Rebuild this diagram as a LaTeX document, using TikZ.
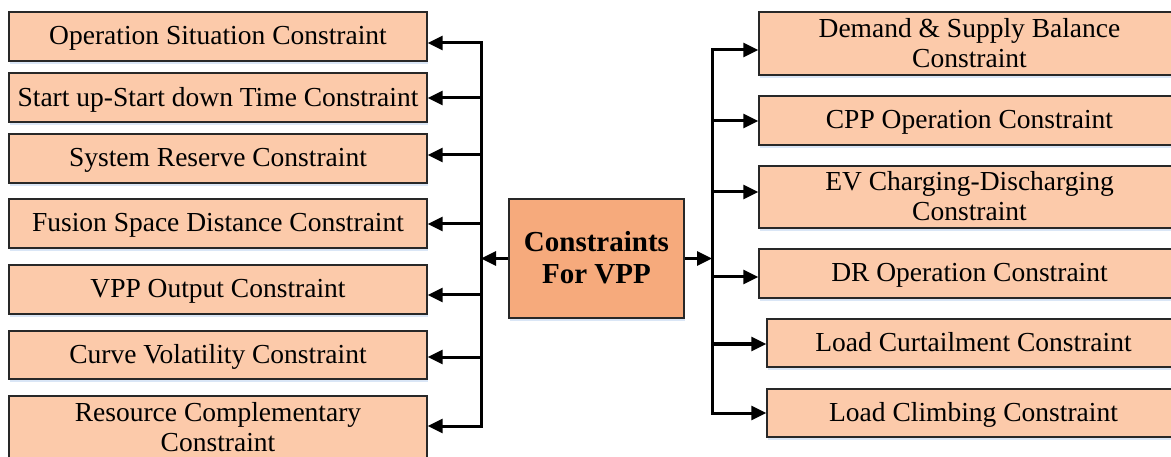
\documentclass[tikz,border=0pt]{standalone}
\usepackage{fontspec}
\setmainfont{Liberation Serif}
\usetikzlibrary{arrows.meta,shadows}

\definecolor{boxfill}{RGB}{252,202,170}
\definecolor{hubfill}{RGB}{246,170,124}
\definecolor{edgecol}{RGB}{40,40,40}
\definecolor{shadecol}{RGB}{218,230,246}

\begin{document}
\begin{tikzpicture}[x=1pt,y=-1pt,
  item/.style={draw=edgecol, line width=1.4pt, fill=boxfill, inner sep=0pt,
    align=center, font=\fontsize{27.5}{30}\selectfont, text depth=2pt,
    drop shadow={shadow xshift=1pt, shadow yshift=-3pt, fill=shadecol, opacity=1}},
  hub/.style={item, fill=hubfill, font=\fontsize{29}{32}\selectfont\bfseries},
  trunk/.style={line width=3pt, line cap=rect},
  arr/.style={line width=3pt, -{Triangle[length=15pt,width=14pt]}}]

\clip (0,0) rectangle (1171,457);
\fill[white] (0,0) rectangle (1171,457);

% central node
\node[hub, minimum width=175pt, minimum height=119pt] (C) at (596.5,258.5)
  {Constraints\\For VPP};

% left column
\node[item, minimum width=418pt, minimum height=49pt] (L1) at (218,36.5) {Operation Situation Constraint};
\node[item, minimum width=418pt, minimum height=49pt] (L2) at (218,97.5) {Start up-Start down Time Constraint};
\node[item, minimum width=418pt, minimum height=49pt] (L3) at (218,158.5) {System Reserve Constraint};
\node[item, minimum width=418pt, minimum height=49pt] (L4) at (218,223.5) {Fusion Space Distance Constraint};
\node[item, minimum width=418pt, minimum height=49pt] (L5) at (218,289.5) {VPP Output Constraint};
\node[item, minimum width=418pt, minimum height=48pt] (L6) at (218,355) {Curve Volatility Constraint};
\node[item, minimum width=418pt, minimum height=63pt] (L7) at (218,427.5) {Resource Complementary\\Constraint};

% right column
\node[item, minimum width=421pt, minimum height=63pt] (R1) at (969.5,43.5) {Demand \& Supply Balance\\Constraint};
\node[item, minimum width=421pt, minimum height=49pt] (R2) at (969.5,120.5) {CPP Operation Constraint};
\node[item, minimum width=421pt, minimum height=62pt] (R3) at (969.5,197) {EV Charging-Discharging\\Constraint};
\node[item, minimum width=421pt, minimum height=49pt] (R4) at (969.5,273.5) {DR Operation Constraint};
\node[item, minimum width=413pt, minimum height=48pt] (R5) at (973.5,343) {Load Curtailment Constraint};
\node[item, minimum width=413pt, minimum height=48pt] (R6) at (973.5,413) {Load Climbing Constraint};

% branching points on the two trunks
\coordinate (a1) at (481,43);
\coordinate (a2) at (481,98);
\coordinate (a3) at (481,155);
\coordinate (a4) at (481,224);
\coordinate (a5) at (481,295);
\coordinate (a6) at (481,357);
\coordinate (a7) at (481,426);
\coordinate (b1) at (712,50);
\coordinate (b2) at (712,121);
\coordinate (b3) at (712,192);
\coordinate (b4) at (712,277);
\coordinate (b5) at (712,344);
\coordinate (b6) at (712,413);

\draw[trunk] (a1) -- (a7);
\draw[trunk] (b1) -- (b6);

\draw[arr] (C.west) -- (C.west -| a1);
\draw[arr] (C.east) -- (C.east -| b1);

\foreach \i in {1,...,7} \draw[arr] (a\i) -- (a\i -| L\i.east);
\foreach \i in {1,...,6} \draw[arr] (b\i) -- (b\i -| R\i.west);
\end{tikzpicture}
\end{document}
